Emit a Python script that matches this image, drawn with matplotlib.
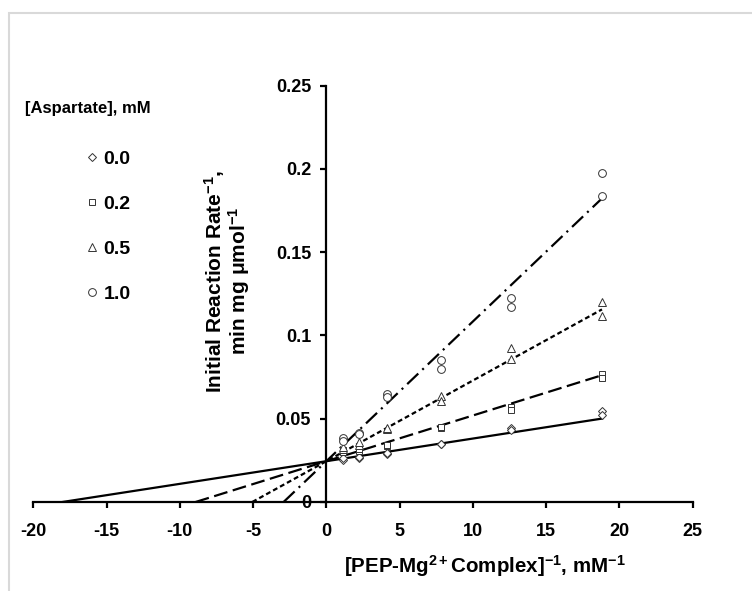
import matplotlib
matplotlib.use("Agg")
import matplotlib.pyplot as plt
from matplotlib.lines import Line2D
from matplotlib.patches import Rectangle
import numpy as np

plt.rcParams['font.family'] = ['Liberation Sans', 'DejaVu Sans']
plt.rcParams['font.weight'] = 'bold'
plt.rcParams['axes.labelweight'] = 'bold'
plt.rcParams['axes.unicode_minus'] = False
plt.rcParams['mathtext.fontset'] = 'custom'
plt.rcParams['mathtext.rm'] = 'Liberation Sans:bold'
plt.rcParams['mathtext.it'] = 'Liberation Sans:bold'
plt.rcParams['mathtext.bf'] = 'Liberation Sans:bold'
plt.rcParams['lines.scale_dashes'] = False

# 1/[PEP-Mg2+] (mM^-1), same for every aspartate level
inv_pep = [1.13, 2.22, 4.13, 7.79, 12.63, 18.81]

# [Aspartate], mM
aspartate = ["0.0", "0.2", "0.5", "1.0"]

# 1/v, two replicates per point
asp00_rep1 = [0.0250, 0.0266, 0.0286, 0.0347, 0.0445, 0.0547]
asp00_rep2 = [0.0262, 0.0272, 0.0292, 0.0350, 0.0431, 0.0521]
asp02_rep1 = [0.0300, 0.0304, 0.0335, 0.0447, 0.0571, 0.0771]
asp02_rep2 = [0.0312, 0.0320, 0.0342, 0.0451, 0.0555, 0.0743]
asp05_rep1 = [0.0320, 0.0341, 0.0441, 0.0637, 0.0927, 0.1202]
asp05_rep2 = [0.0332, 0.0360, 0.0445, 0.0607, 0.0861, 0.1118]
asp10_rep1 = [0.0387, 0.0417, 0.0651, 0.0855, 0.1224, 0.1977]
asp10_rep2 = [0.0367, 0.0411, 0.0631, 0.0799, 0.1168, 0.1837]

# linear fits (common y-intercept)
fit_slope = [0.00136, 0.002745, 0.004846, 0.00839]
fit_intercept = [0.0245, 0.0245, 0.0245, 0.0245]

markers = ['D', 's', '^', 'o']
marker_sizes = [3.6, 5, 5.2, 5.6]
line_styles = ['-', (0, (10, 4)), (0, (3.5, 2.2)), (0, (11, 4, 1.5, 4))]

reps = [(asp00_rep1, asp00_rep2), (asp02_rep1, asp02_rep2),
        (asp05_rep1, asp05_rep2), (asp10_rep1, asp10_rep2)]

fig = plt.figure(figsize=(7.52, 5.91), dpi=100)
ax = fig.add_axes([0.0443, 0.1506, 0.8768, 0.7044])

handles = []
for i, label in enumerate(aspartate):
    for rep in reps[i]:
        ax.plot(inv_pep, rep, linestyle='none', marker=markers[i], ms=marker_sizes[i],
                mfc='white', mec='#333333', mew=0.7, zorder=3)
    m, b = fit_slope[i], fit_intercept[i]
    xs = np.array([-b / m, inv_pep[-1]])
    ax.plot(xs, m * xs + b, color='black', lw=1.6, linestyle=line_styles[i], zorder=2)
    handles.append(Line2D([], [], linestyle='none', marker=markers[i], ms=marker_sizes[i],
                          mfc='white', mec='#333333', mew=0.7, label=label))

ax.set_xlim(-20, 25)
ax.set_ylim(0, 0.25)
ax.spines['left'].set_position(('data', 0))
ax.spines['top'].set_visible(False)
ax.spines['right'].set_visible(False)
for s in ['left', 'bottom']:
    ax.spines[s].set_linewidth(1.6)

ax.set_xticks(np.arange(-20, 26, 5))
ax.set_yticks([0, 0.05, 0.1, 0.15, 0.2, 0.25])
ax.set_yticklabels(['0', '0.05', '0.1', '0.15', '0.2', '0.25'])
ax.tick_params(axis='x', direction='out', length=4, width=1.6, pad=11, labelsize=13)
ax.tick_params(axis='y', direction='out', length=4, width=1.6, pad=7, labelsize=13)

ax.set_xlabel('[PEP-Mg$^{2+}$Complex]$^{-1}$, mM$^{-1}$', fontsize=14.8, fontweight='bold')
ax.xaxis.set_label_coords(0.685, -0.122)
ax.set_ylabel('Initial Reaction Rate$^{-1}$,\nmin mg μmol$^{-1}$', fontsize=15,
              fontweight='bold', linespacing=0.95)
ax.yaxis.set_label_coords(0.331, 0.53)

fig.text(25 / 752, 1 - 108 / 591, '[Aspartate], mM', fontsize=12, va='center', ha='left')
ax.legend(handles=handles, loc='upper left', bbox_to_anchor=(86 / 752, 1 - 150 / 591),
          bbox_transform=fig.transFigure, frameon=False, fontsize=14, handlelength=0.6,
          handletextpad=0.3, labelspacing=1.42, borderpad=0, borderaxespad=0)

# light grey chart-area border
fig.add_artist(Rectangle((9 / 752, -0.5), 2, 0.5 + 1 - 13 / 591, transform=fig.transFigure,
                         facecolor='none', edgecolor='#d9d9d9', lw=1.5))

fig.savefig('out.png', dpi=100)
